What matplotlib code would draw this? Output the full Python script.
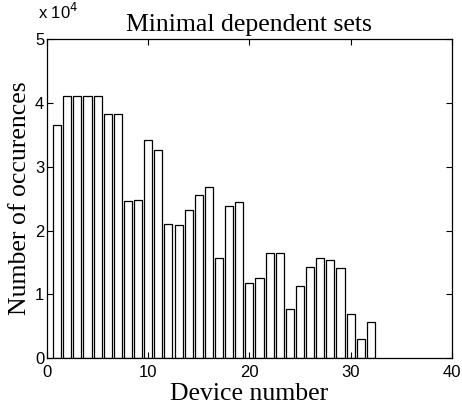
import matplotlib
matplotlib.use("Agg")
import matplotlib.pyplot as plt
from matplotlib.ticker import FuncFormatter

devices = list(range(1, 33))
counts = [36500, 41100, 41100, 41100, 41100, 38300, 38300, 24700, 24800, 34200,
          32700, 21000, 20900, 23300, 25600, 26900, 15700, 23900, 24500, 11800,
          12600, 16500, 16500, 7700, 11300, 14300, 15700, 15400, 14200, 6900,
          3000, 5700]
xticks = [0, 10, 20, 30, 40]
yticks = [0, 10000, 20000, 30000, 40000, 50000]

fig = plt.figure(figsize=(4.62, 4.12), dpi=100)
ax = fig.add_axes([0.1017, 0.131, 0.8763, 0.7736])

ax.bar(devices, counts, width=0.8, color="white", edgecolor="black", linewidth=0.9)
ax.set_xlim(0, 40)
ax.set_ylim(0, 50000)
ax.set_xticks(xticks)
ax.set_yticks(yticks)
ax.yaxis.set_major_formatter(FuncFormatter(lambda v, p: "%d" % round(v / 1e4)))
ax.tick_params(direction="in", top=True, right=True, length=4, width=0.8,
               labelsize=12)
ax.tick_params(axis="x", pad=5)
ax.tick_params(axis="y", pad=2)
for lab in ax.get_xticklabels() + ax.get_yticklabels():
    lab.set_fontfamily("Liberation Sans")
for s in ax.spines.values():
    s.set_linewidth(0.9)

serif = "Liberation Serif"
ax.set_title("Minimal dependent sets", fontfamily=serif, fontsize=18.5, pad=6)
ax.set_xlabel("Device number", fontfamily=serif, fontsize=18.5, labelpad=2)
ax.set_ylabel("Number of occurences", fontfamily=serif, fontsize=18.5, labelpad=3)
fig.text(38 / 462, (412 - 19) / 412, r"x 10$^{4}$", ha="left", va="baseline",
         fontfamily="Liberation Sans", fontsize=12)

fig.savefig("out.png", dpi=100)
